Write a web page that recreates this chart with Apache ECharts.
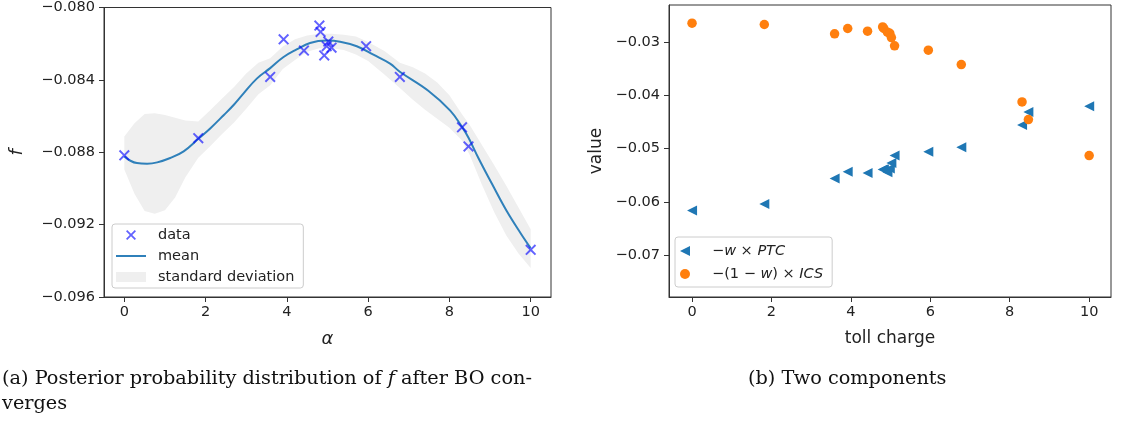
<!DOCTYPE html>
<html>
<head>
<meta charset="utf-8">
<style>
  html, body { margin: 0; padding: 0; background: #fff; }
  #chart { width: 1121px; height: 421px; }
</style>
<script src="https://cdn.jsdelivr.net/npm/echarts@6/dist/echarts.min.js"></script>
</head>
<body>
<div id="chart"></div>
<script>
// Evaluated toll charges (the same α values feed both panels)
const tollCharge = [0, 1.82, 3.59, 3.92, 4.42, 4.80, 4.83, 4.92, 4.98, 5.02, 5.10, 5.95, 6.78, 8.31, 8.47, 10.0];
// Observed objective f at each toll charge
const fObserved = [-0.08817, -0.08722, -0.08384, -0.08176, -0.08238, -0.08100, -0.08135, -0.08265,
                   -0.08214, -0.08188, -0.08222, -0.08214, -0.08384, -0.08662, -0.08768, -0.09339];

// Posterior mean of the surrogate
const meanX = [0, 0.15, 0.31, 0.56, 0.81, 1.13, 1.46, 1.82, 2.12, 2.45, 2.69, 2.93, 3.26, 3.59, 3.91,
               4.24, 4.57, 4.98, 5.31, 5.72, 6.13, 6.54, 6.78, 7.48, 8.02, 8.31, 8.47, 8.71, 9.06, 9.41, 9.76, 10.0];
const meanF = [-0.08823, -0.08847, -0.08860, -0.08863, -0.08856, -0.08832, -0.08795, -0.08726, -0.08667,
               -0.08594, -0.08539, -0.08476, -0.08393, -0.08335, -0.08275, -0.08232, -0.08196, -0.08183,
               -0.08189, -0.08214, -0.08261, -0.08310, -0.08355, -0.08460, -0.08570, -0.08660, -0.08720,
               -0.08830, -0.08980, -0.09125, -0.09250, -0.09330];

// Standard-deviation band edges
const bandX = [0, 0.25, 0.5, 0.75, 1.0, 1.25, 1.5, 1.82, 2.1, 2.4, 2.7, 3.0, 3.3, 3.59, 3.9, 4.2, 4.5,
               4.8, 5.1, 5.4, 5.7, 6.0, 6.4, 6.78, 7.1, 7.4, 7.7, 8.0, 8.31, 8.5, 8.8, 9.1, 9.4, 9.7, 10.0];
const bandUpper = [-0.08713, -0.08640, -0.08588, -0.08585, -0.08594, -0.08610, -0.08625, -0.08630, -0.08570,
                   -0.08505, -0.08440, -0.08365, -0.08305, -0.08280, -0.08215, -0.08175, -0.08155, -0.08145,
                   -0.08145, -0.08150, -0.08160, -0.08190, -0.08240, -0.08305, -0.08330, -0.08365, -0.08415,
                   -0.08485, -0.08590, -0.08650, -0.08760, -0.08870, -0.08985, -0.09105, -0.09225];
const bandLower = [-0.08896, -0.09030, -0.09125, -0.09140, -0.09120, -0.09050, -0.08940, -0.08830, -0.08770,
                   -0.08700, -0.08635, -0.08560, -0.08480, -0.08430, -0.08340, -0.08290, -0.08245, -0.08225,
                   -0.08225, -0.08235, -0.08260, -0.08295, -0.08370, -0.08445, -0.08510, -0.08565, -0.08615,
                   -0.08665, -0.08735, -0.08815, -0.08980, -0.09130, -0.09260, -0.09360, -0.09440];

// The two components of f
const ptcTerm = [-0.06160, -0.06040, -0.05560, -0.05435, -0.05455, -0.05390, -0.05385, -0.05445,
                 -0.05375, -0.05270, -0.05131, -0.05060, -0.04975, -0.04560, -0.04313, -0.04206];
const icsTerm = [-0.02650, -0.02675, -0.02850, -0.02750, -0.02800, -0.02720, -0.02750, -0.02820,
                 -0.02840, -0.02920, -0.03075, -0.03156, -0.03425, -0.04125, -0.04456, -0.05131];

// Tick positions
const xTicks = [0, 2, 4, 6, 8, 10];
const fTicks = [-0.096, -0.092, -0.088, -0.084, -0.080];
const valueTicks = [-0.07, -0.06, -0.05, -0.04, -0.03];

const zip = (a, b) => a.map((v, i) => [v, b[i]]);
const minus = s => s.replace('-', '\u2212');

const TICK_FONT = { fontFamily: 'DejaVu Sans', fontSize: 14.5, color: '#222' };
const FRAME = '#333';
const BAND = '#efefef';
const X_MARK = 'path://M0,1.25 L1.25,0 L5,3.75 L8.75,0 L10,1.25 L6.25,5 L10,8.75 L8.75,10 L5,6.25 L1.25,10 L0,8.75 L3.75,5 Z';
const TRI_LEFT = 'path://M0,5 L10,0 L10,10 Z';
const LINE_ICON = 'path://M0,0 L30,0 L30,2 L0,2 Z';

function xAxis(gridIndex, min, max, name) {
  return {
    type: 'value', gridIndex, min, max,
    name, nameLocation: 'middle', nameGap: 33,
    nameTextStyle: name === '\u03b1'
      ? { fontFamily: 'DejaVu Sans', fontStyle: 'italic', fontSize: 18, color: '#222' }
      : { fontFamily: 'DejaVu Sans', fontSize: 17, color: '#222' },
    axisLine: { show: true, onZero: false, lineStyle: { color: FRAME, width: 1 } },
    axisTick: { show: true, length: 5, lineStyle: { color: FRAME }, customValues: xTicks },
    axisLabel: { ...TICK_FONT, margin: 8, customValues: xTicks, formatter: v => String(v) },
    splitLine: { show: false }
  };
}

function yAxis(gridIndex, min, max, ticks, digits, name, nameGap, nameStyle) {
  return {
    type: 'value', gridIndex, min, max,
    name, nameLocation: 'middle', nameGap, nameRotate: 90,
    nameTextStyle: nameStyle,
    axisLine: { show: true, onZero: false, lineStyle: { color: FRAME, width: 1 } },
    axisTick: { show: true, length: 5, lineStyle: { color: FRAME }, customValues: ticks },
    axisLabel: { ...TICK_FONT, margin: 9, customValues: ticks, formatter: v => minus(v.toFixed(digits)) },
    splitLine: { show: false }
  };
}

const chart = echarts.init(document.getElementById('chart'), null, { renderer: 'canvas' });

chart.setOption({
  animation: false,
  backgroundColor: '#fff',
  grid: [
    { left: 104, top: 5, width: 447, height: 292, show: true, borderColor: FRAME, borderWidth: 1, backgroundColor: 'transparent' },
    { left: 669, top: 5, width: 442, height: 292, show: true, borderColor: FRAME, borderWidth: 1, backgroundColor: 'transparent' }
  ],
  xAxis: [
    xAxis(0, -0.5, 10.5, '\u03b1'),
    xAxis(1, -0.58, 10.55, 'toll charge')
  ],
  yAxis: [
    yAxis(0, -0.096, -0.080, fTicks, 3, 'f', 78,
      { fontFamily: 'DejaVu Sans', fontStyle: 'italic', fontSize: 18, color: '#222' }),
    yAxis(1, -0.0778, -0.0231, valueTicks, 2, 'value', 64,
      { fontFamily: 'DejaVu Sans', fontSize: 17, color: '#222' })
  ],
  legend: [
    {
      orient: 'vertical', left: 112, top: 224,
      itemWidth: 30, itemHeight: 10, itemGap: 5,
      padding: [3, 9, 3, 4],
      backgroundColor: 'rgba(255,255,255,0.8)', borderColor: '#ccc', borderWidth: 1, borderRadius: 3,
      textStyle: { fontFamily: 'DejaVu Sans', fontSize: 14.5, color: '#222', lineHeight: 16, padding: [0, 0, 0, 7] },
      data: [
        { name: 'data' },
        { name: 'mean', icon: LINE_ICON },
        { name: 'standard deviation', icon: 'rect', itemStyle: { color: BAND } }
      ]
    },
    {
      orient: 'vertical', left: 675, top: 237,
      itemWidth: 30, itemHeight: 10, itemGap: 7,
      padding: [6, 9, 5, 5],
      backgroundColor: 'rgba(255,255,255,0.8)', borderColor: '#ccc', borderWidth: 1, borderRadius: 3,
      textStyle: {
        fontFamily: 'DejaVu Sans', fontSize: 14.5, color: '#222', lineHeight: 16, padding: [0, 0, 0, 7],
        rich: { i: { fontFamily: 'DejaVu Sans', fontStyle: 'italic', fontSize: 14.5, color: '#222' } }
      },
      formatter: name => name === 'ptc'
        ? '\u2212{i|w} \u00d7 {i|PTC}'
        : '\u2212(1 \u2212 {i|w}) \u00d7 {i|ICS}',
      data: [{ name: 'ptc' }, { name: 'ics' }]
    }
  ],
  series: [
    {
      name: 'standard deviation',
      type: 'custom', xAxisIndex: 0, yAxisIndex: 0, z: 1, clip: true,
      data: [0],
      itemStyle: { color: BAND },
      renderItem: (params, api) => {
        const pts = [];
        for (let i = 0; i < bandX.length; i++) pts.push(api.coord([bandX[i], bandUpper[i]]));
        for (let i = bandX.length - 1; i >= 0; i--) pts.push(api.coord([bandX[i], bandLower[i]]));
        return { type: 'polygon', shape: { points: pts }, style: { fill: BAND } };
      }
    },
    {
      name: 'mean',
      type: 'line', xAxisIndex: 0, yAxisIndex: 0, z: 2,
      data: zip(meanX, meanF),
      smooth: 0.4, symbol: 'none', showSymbol: false,
      lineStyle: { color: '#2f80ba', width: 2 },
      itemStyle: { color: '#2f80ba' }
    },
    {
      name: 'data',
      type: 'scatter', xAxisIndex: 0, yAxisIndex: 0, z: 3,
      data: zip(tollCharge, fObserved),
      symbol: X_MARK, symbolSize: 11,
      itemStyle: { color: 'rgba(10,10,255,0.8)' }
    },
    {
      name: 'ptc',
      type: 'scatter', xAxisIndex: 1, yAxisIndex: 1,
      data: zip(tollCharge, ptcTerm),
      symbol: TRI_LEFT, symbolSize: 10,
      itemStyle: { color: '#1f77b4', opacity: 1 }
    },
    {
      name: 'ics',
      type: 'scatter', xAxisIndex: 1, yAxisIndex: 1,
      data: zip(tollCharge, icsTerm),
      symbol: 'circle', symbolSize: 9.5,
      itemStyle: { color: '#ff7f0e', opacity: 1 }
    }
  ],
  graphic: [
    {
      type: 'text', left: 2, top: 366,
      style: {
        text: '(a) Posterior probability distribution of {i|f} after BO con-\nverges',
        font: '19.3px "DejaVu Serif"', fill: '#111', lineHeight: 25,
        rich: { i: { fontFamily: 'DejaVu Serif', fontStyle: 'italic', fontSize: 19.3, fill: '#111' } }
      }
    },
    {
      type: 'text', left: 748, top: 366,
      style: { text: '(b) Two components', font: '19.3px "DejaVu Serif"', fill: '#111', lineHeight: 25 }
    }
  ]
});
</script>
</body>
</html>
